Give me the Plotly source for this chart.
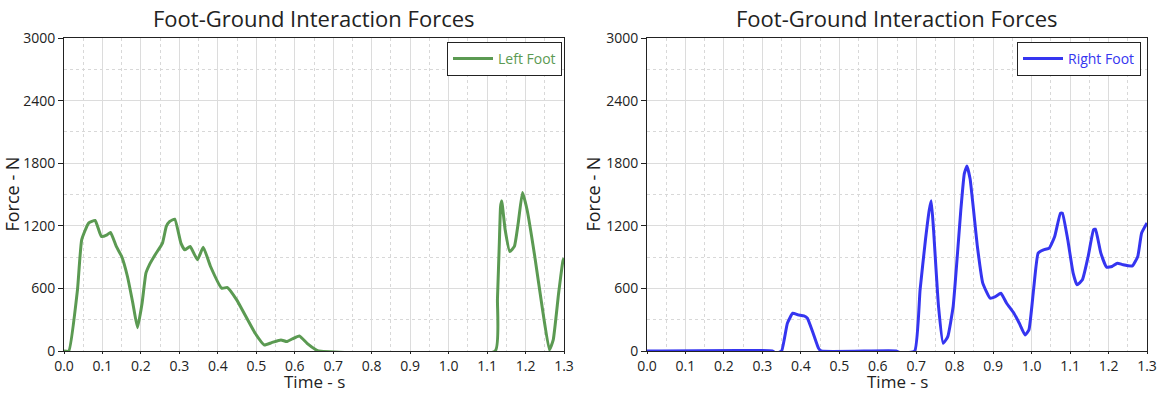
import plotly.graph_objects as go

# ---------------- data ----------------
left_t = [0.0, 0.0125, 0.035, 0.046, 0.064, 0.081, 0.097, 0.112, 0.121, 0.136, 0.150, 0.165,
          0.179, 0.191, 0.203, 0.213, 0.222, 0.237, 0.256, 0.266, 0.275, 0.288, 0.304, 0.314,
          0.328, 0.347, 0.362, 0.381, 0.410, 0.425, 0.449, 0.497, 0.521, 0.540, 0.564, 0.579,
          0.593, 0.612, 0.632, 0.656, 0.662, 1.121, 1.127, 1.132, 1.135, 1.138, 1.147, 1.159,
          1.171, 1.181, 1.192, 1.204, 1.224, 1.243, 1.262, 1.272, 1.286, 1.297, 1.30]
left_f = [0, 0, 585, 1066, 1226, 1251, 1098, 1114, 1136, 1002, 906, 714,
          458, 224, 458, 746, 826, 922, 1034, 1194, 1242, 1264, 1034, 970,
          1002, 874, 995, 810, 602, 608, 490, 170, 58, 80, 106, 90,
          115, 144, 74, 10, 0, 0, 500, 1050, 1380, 1440, 1162, 954,
          1002, 1226, 1520, 1354, 906, 426, 10, 106, 554, 860, 890]

right_t = [0.0, 0.326, 0.336, 0.350, 0.365, 0.379, 0.393, 0.408, 0.417, 0.432, 0.446, 0.453,
           0.648, 0.660, 0.696, 0.710, 0.724, 0.734, 0.739, 0.745, 0.758, 0.770, 0.782, 0.796,
           0.808, 0.816, 0.825, 0.832, 0.840, 0.859, 0.873, 0.892, 0.906, 0.920, 0.935, 0.954,
           0.968, 0.983, 0.993, 1.005, 1.017, 1.031, 1.046, 1.060, 1.075, 1.080, 1.094, 1.108,
           1.118, 1.132, 1.147, 1.161, 1.166, 1.180, 1.195, 1.209, 1.223, 1.238, 1.262, 1.276,
           1.286, 1.30]
right_f = [0, 0, -20, 0, 266, 362, 346, 336, 314, 170, 26, 0,
           0, -20, 0, 586, 1066, 1354, 1440, 1162, 426, 74, 138, 426,
           970, 1354, 1700, 1773, 1650, 1002, 650, 506, 522, 554, 458, 362,
           266, 154, 202, 586, 938, 970, 986, 1098, 1322, 1322, 1066, 746,
           634, 682, 906, 1162, 1168, 938, 803, 810, 842, 826, 816, 906,
           1130, 1226]

x_ticks = [0.0, 0.1, 0.2, 0.3, 0.4, 0.5, 0.6, 0.7, 0.8, 0.9, 1.0, 1.1, 1.2, 1.3]
y_ticks = [0, 600, 1200, 1800, 2400, 3000]

title_text = "Foot-Ground Interaction Forces"
x_title = "Time - s"
y_title = "Force - N"

GREEN = "#5b9a52"
BLUE = "#3535f0"
FONT = "Open Sans"
TXT = "#222222"

W, H = 1158, 393
# plot areas in pixels
L1, R1 = 64, 564
L2, R2 = 647, 1147
TOP, BOT = 38, 351
TITLE_Y = 18
XT_Y = 381
YT_X1 = 11
YT_X2 = 592

fig = go.Figure()
fig.add_trace(go.Scatter(x=left_t, y=left_f, mode="lines", name="Left Foot",
                         line=dict(color=GREEN, width=3, shape="spline", smoothing=0.4),
                         xaxis="x", yaxis="y", legend="legend"))
fig.add_trace(go.Scatter(x=right_t, y=right_f, mode="lines", name="Right Foot",
                         line=dict(color=BLUE, width=3, shape="spline", smoothing=0.4),
                         xaxis="x2", yaxis="y2", legend="legend2"))

def xaxis_cfg(l, r, anchor):
    return dict(domain=[l / W, r / W], anchor=anchor, range=[0, 1.3], automargin=False,
                tickvals=x_ticks, ticktext=[f"{v:.1f}" for v in x_ticks],
                showline=True, mirror=True, linecolor=TXT, linewidth=1,
                ticks="outside", ticklen=2, tickcolor=TXT,
                showgrid=True, gridcolor="#dcdcdc", gridwidth=1,
                minor=dict(dtick=0.05, tick0=0, showgrid=True, gridcolor="#d8d8d8",
                           griddash="dot", gridwidth=1),
                zeroline=False,
                tickfont=dict(family=FONT, size=14, color=TXT))

def yaxis_cfg(anchor):
    return dict(domain=[1 - BOT / H, 1 - TOP / H], anchor=anchor, range=[0, 3000], automargin=False,
                tickvals=y_ticks,
                showline=True, mirror=True, linecolor=TXT, linewidth=1,
                ticks="outside", ticklen=5, tickcolor=TXT,
                showgrid=True, gridcolor="#dcdcdc", gridwidth=1,
                minor=dict(dtick=300, tick0=0, showgrid=True, gridcolor="#d8d8d8",
                           griddash="dot", gridwidth=1),
                zeroline=False,
                tickfont=dict(family=FONT, size=14, color=TXT))

def ann(text, x, y, size, angle=0):
    return dict(text=text, x=x / W, y=1 - y / H, xref="paper", yref="paper",
                showarrow=False, font=dict(family=FONT, size=size, color=TXT),
                xanchor="center", yanchor="middle", textangle=angle)

fig.update_layout(
    width=W, height=H,
    margin=dict(l=0, r=0, t=0, b=0, autoexpand=False),
    paper_bgcolor="white", plot_bgcolor="white",
    font=dict(family=FONT),
    xaxis=xaxis_cfg(L1, R1, "y"),
    yaxis=yaxis_cfg("x"),
    xaxis2=xaxis_cfg(L2, R2, "y2"),
    yaxis2=yaxis_cfg("x2"),
    legend=dict(x=(R1 - 2) / W, y=1 - (TOP + 4) / H, xanchor="right", yanchor="top",
                bordercolor=TXT, borderwidth=1, bgcolor="white", tracegroupgap=0,
                font=dict(family=FONT, size=14, color=GREEN), itemwidth=40),
    legend2=dict(x=(R2 - 6) / W, y=1 - (TOP + 4) / H, xanchor="right", yanchor="top",
                 bordercolor=TXT, borderwidth=1, bgcolor="white", tracegroupgap=0,
                 font=dict(family=FONT, size=14, color=BLUE), itemwidth=40),
    showlegend=True,
    annotations=[
        ann(title_text, (L1 + R1) / 2, TITLE_Y, 22),
        ann(title_text, (L2 + R2) / 2, TITLE_Y, 22),
        ann(x_title, (L1 + R1) / 2, XT_Y, 17),
        ann(x_title, (L2 + R2) / 2, XT_Y, 17),
        ann(y_title, YT_X1, (TOP + BOT) / 2, 18, -90),
        ann(y_title, YT_X2, (TOP + BOT) / 2, 18, -90),
    ],
)

# remove the default 8px page margin so the figure fills the window exactly
fig.write_html("out.html",
               config={"displayModeBar": False},
               post_script="document.body.style.margin='0';document.body.style.overflow='hidden';")
